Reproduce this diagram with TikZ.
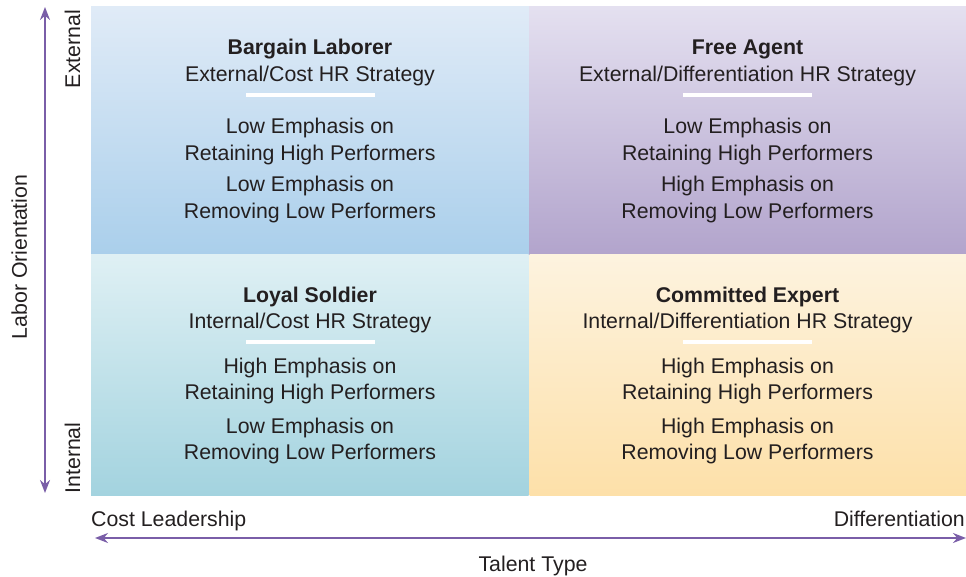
\documentclass[tikz,border=0pt]{standalone}
\usepackage{fontspec}
\setmainfont{Liberation Sans}
\usetikzlibrary{arrows.meta}
\definecolor{txt}{HTML}{231F20}
\definecolor{axis}{HTML}{7A5EA8}
\definecolor{tlTop}{HTML}{E0EBF7}
\definecolor{tlBot}{HTML}{AACFEB}
\definecolor{trTop}{HTML}{E4E0F0}
\definecolor{trBot}{HTML}{B2A4CC}
\definecolor{blTop}{HTML}{DFF0F4}
\definecolor{blBot}{HTML}{A3D3DF}
\definecolor{brTop}{HTML}{FDF3DF}
\definecolor{brBot}{HTML}{FDE0A9}
\tikzset{
  lbl/.style={anchor=base, inner sep=0pt, text=txt, font=\fontsize{21.3}{26}\selectfont},
  ttl/.style={lbl, font=\fontsize{21.3}{26}\selectfont\bfseries},
  bar/.style={fill=white, draw=none},
  axisarrow/.style={draw=axis, line width=1.8pt, {Stealth[length=13pt,width=10pt]}-{Stealth[length=13pt,width=10pt]}},
}
\begin{document}
\begin{tikzpicture}[x=1pt,y=-1pt]
\useasboundingbox (0,0) rectangle (966,577);
% quadrants
\shade[top color=tlTop, bottom color=tlBot] (91,7) rectangle (529,255);
\shade[top color=trTop, bottom color=trBot] (529,7) rectangle (966,255);
\shade[top color=blTop, bottom color=blBot] (91,255) rectangle (528.5,495);
\shade[top color=brTop, bottom color=brBot] (529.5,255) rectangle (966,495);
% white bars
\fill[bar] (246,93.5) rectangle (375,97.5);
\fill[bar] (683,93.5) rectangle (812,97.5);
\fill[bar] (246,340) rectangle (375,344);
\fill[bar] (683,340) rectangle (812,344);
% top-left
\node[ttl] (tlT) at (310,55) {Bargain Laborer};
\node[lbl] (tlS) at (310,81.5) {External/Cost HR Strategy};
\node[lbl] (tl1) at (310,134) {Low Emphasis on};
\node[lbl] (tl2) at (310,160.5) {Retaining High Performers};
\node[lbl] (tl3) at (310,192) {Low Emphasis on};
\node[lbl] (tl4) at (310,218.5) {Removing Low Performers};
% top-right
\node[ttl] (trT) at (747.5,55) {Free Agent};
\node[lbl] (trS) at (747.5,81.5) {External/Differentiation HR Strategy};
\node[lbl] (tr1) at (747.5,134) {Low Emphasis on};
\node[lbl] (tr2) at (747.5,160.5) {Retaining High Performers};
\node[lbl] (tr3) at (747.5,192) {High Emphasis on};
\node[lbl] (tr4) at (747.5,218.5) {Removing Low Performers};
% bottom-left
\node[ttl] (blT) at (310,302) {Loyal Soldier};
\node[lbl] (blS) at (310,328.5) {Internal/Cost HR Strategy};
\node[lbl] (bl1) at (310,373) {High Emphasis on};
\node[lbl] (bl2) at (310,399.5) {Retaining High Performers};
\node[lbl] (bl3) at (310,433) {Low Emphasis on};
\node[lbl] (bl4) at (310,459.5) {Removing Low Performers};
% bottom-right
\node[ttl] (brT) at (747.5,302) {Committed Expert};
\node[lbl] (brS) at (747.5,328.5) {Internal/Differentiation HR Strategy};
\node[lbl] (br1) at (747.5,373) {High Emphasis on};
\node[lbl] (br2) at (747.5,399.5) {Retaining High Performers};
\node[lbl] (br3) at (747.5,433) {High Emphasis on};
\node[lbl] (br4) at (747.5,459.5) {Removing Low Performers};
% axes
\coordinate (vTop) at (45,7);
\coordinate (vBot) at (45,493);
\draw[axisarrow] (vBot) -- (vTop);
\coordinate (hLeft) at (95,538);
\coordinate (hRight) at (966,538);
\draw[axisarrow] (hLeft) -- (hRight);
% axis labels
\node[lbl, rotate=90, anchor=base] (lo) at (27,257) {Labor Orientation};
\node[lbl, rotate=90, anchor=base] (ext) at (80,49) {External};
\node[lbl, rotate=90, anchor=base] (int) at (80,458) {Internal};
\node[lbl, anchor=base west] (cl) at (91,526) {Cost Leadership};
\node[lbl, anchor=base east] (dif) at (965,526) {Differentiation};
\node[lbl] (tt) at (533,571) {Talent Type};
\end{tikzpicture}
\end{document}
